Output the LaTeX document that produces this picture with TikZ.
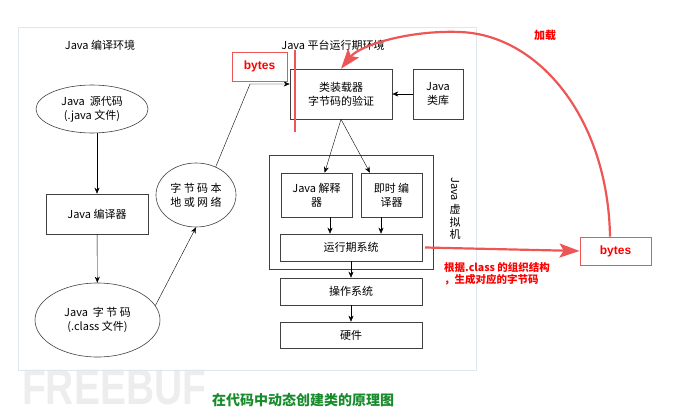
\documentclass[tikz,border=0pt]{standalone}
\usepackage{fontspec}
\setmainfont{Noto Sans CJK SC}
\newfontfamily\bytesfont{Liberation Sans}
\usetikzlibrary{shapes.geometric,arrows.meta}
\definecolor{markred}{RGB}{238,86,86}
\definecolor{capgreen}{RGB}{24,140,44}
\definecolor{framegray}{RGB}{222,230,240}
\begin{document}
\begin{tikzpicture}[x=1pt,y=-1pt,>={Stealth[length=6pt,width=5pt]},
  font=\fontsize{11}{14}\selectfont,
  box/.style={draw=black!75,line width=.6pt,inner sep=0pt,align=center},
  oval/.style={ellipse,draw=black!75,line width=.6pt,inner sep=0pt,align=center},
  redbox/.style={draw=markred,line width=.9pt,inner sep=0pt,text=red,font=\bytesfont\bfseries\fontsize{12}{14}\selectfont},
  redline/.style={draw=markred,line width=2.2pt,-{Stealth[length=20pt,width=14pt,inset=4pt]}}]
\useasboundingbox (0,0) rectangle (690,417);
\node(wm)[anchor=west,text=black!7,font=\bytesfont\bfseries\fontsize{50}{50}\selectfont,xscale=.78,inner sep=0pt]at(22,388){FREEBUF};
\draw[color=framegray](18,27)rectangle(476,370);

\node(t1)at(100,45){Java 编译环境};
\node(t2)at(333,45){Java 平台运行期环境};

% compile side
\node(src)[oval,minimum width=112,minimum height=48]at(92,109){Java\ \ 源代码\\(.java 文件)};
\node(comp)[box,minimum width=102,minimum height=40]at(97,214){Java 编译器};
\node(cls)[oval,minimum width=125,minimum height=74]at(97.5,320){Java\ \ 字 节 码\\(.class 文件)};
\node(net)[oval,minimum width=80,minimum height=64]at(196,195){字 节 码 本\\地 或 网 络};
\coordinate(bend)at(250,84);

% runtime side
\node(loader)[box,minimum width=102,minimum height=50]at(341,94){类装载器\\字节码的验证};
\node(lib)[box,minimum width=50,minimum height=50]at(438,94){Java\\类库};
\node(jvm)[box,minimum width=164,minimum height=114]at(351,212){};
\node(interp)[box,minimum width=71,minimum height=44]at(316.5,195){Java 解释\\器};
\node(jit)[box,minimum width=61,minimum height=44]at(391.5,195){即时 编\\译器};
\node(runtime)[box,minimum width=142,minimum height=27]at(351,247.5){运行期系统};
\node(os)[box,minimum width=142,minimum height=27]at(351,291.5){操作系统};
\node(hw)[box,minimum width=142,minimum height=26]at(351,335){硬件};
\node(vmj)[rotate=-90,inner sep=0pt]at(455,189){Java};
\node(vmc)[align=center,inner sep=0pt,font=\fontsize{11}{12.5}\selectfont]at(455,222){虚\\拟\\机};

\draw[->](src.south-|comp.north)--(comp.north);
\draw[->](comp)--(cls);
\draw[->](cls.14)--(net.south);
\draw[->](net.55)--(bend)--(bend-|loader.west);
\draw[->](lib)--(loader);
\draw[->](loader.south)--(interp.70);
\draw[->](loader.south)--(jit.134);
\foreach \x/\n in {330/interp,381/jit}
  \draw[->](\n.south-|\x,0)--(runtime.north-|\x,0);
\draw[->](runtime)--(os);
\draw[->](os)--(hw);

% red marks
\node(b1)[redbox,minimum width=55,minimum height=29]at(259.5,66.5){bytes};
\node(b2)[redbox,minimum width=71,minimum height=28]at(615.5,251){bytes};
\draw[markred,line width=2pt](295,50)--(295,132);
\draw[redline](b2.north-|610,0) .. controls (608,120) and (540,35) .. (460,32)
  .. controls (410,30) and (360,45) .. (loader.north);
\draw[redline](runtime.east-|425,0)--(b2.west);
\node(load)[text=red,font=\bfseries\fontsize{11}{13}\selectfont]at(545,35){加载};
\node(note)[anchor=north west,align=left,inner sep=0pt,text=red,
  font=\bfseries\fontsize{10.5}{12.5}\selectfont]at(444,262){根据.class 的组织结构\\，生成对应的字节码};

\node(cap)[text=capgreen,font=\bfseries\fontsize{14}{16}\selectfont]at(303,400){在代码中动态创建类的原理图};
\end{tikzpicture}
\end{document}
